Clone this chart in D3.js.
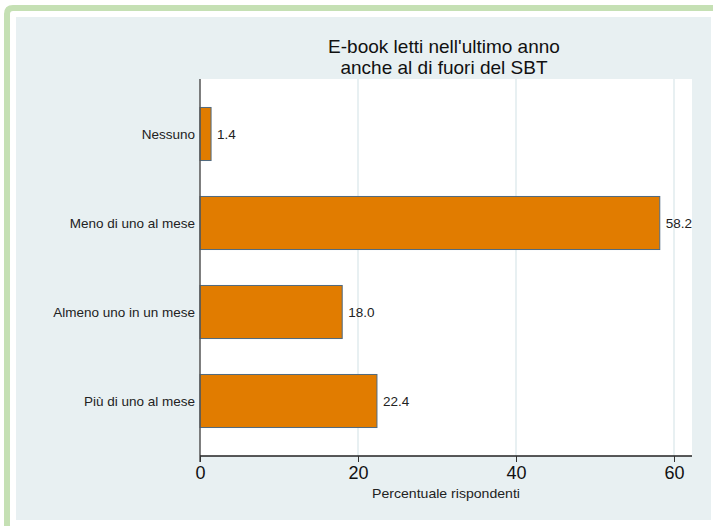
<!DOCTYPE html>
<html><head><meta charset="utf-8">
<script src="https://cdn.jsdelivr.net/npm/d3@7"></script>
<style>body{margin:0;background:#fff;}svg{display:block;font-family:"Liberation Sans",Arial,sans-serif;}</style>
</head><body>
<script>
const categories = ["Nessuno","Meno di uno al mese","Almeno uno in un mese","Più di uno al mese"];
const values = [1.4, 58.2, 18.0, 22.4];
const xTicks = [0, 20, 40, 60];
const titleLines = ["E-book letti nell'ultimo anno","anche al di fuori del SBT"];
const xTitle = "Percentuale rispondenti";

(function(){
const W = 713, H = 526;
const svg = d3.select("body").append("svg").attr("width", W).attr("height", H);

// outer green frame
svg.append("path")
  .attr("d", "M7,526 L7,14 Q7,8 13,8 L713,8")
  .attr("fill","none").attr("stroke","#c5e0b4").attr("stroke-width",6);
// panel
svg.append("rect").attr("x",16).attr("y",17).attr("width",695).attr("height",503).attr("fill","#e8f0f2");

const pL = 200, pR = 692, pT = 79, pB = 456;
svg.append("rect").attr("x",pL).attr("y",pT).attr("width",pR-pL).attr("height",pB-pT).attr("fill","#fff");

const x = d3.scaleLinear().domain([0, 60]).range([pL, 674]);
const y = d3.scaleBand().domain(categories).range([pT, pB]).paddingInner(0.404).paddingOuter(0.32);

// grid
svg.append("g").selectAll("line").data(xTicks.filter(d=>d>0)).join("line")
  .attr("x1",d=>x(d)).attr("x2",d=>x(d)).attr("y1",pT).attr("y2",pB)
  .attr("stroke","#e8f0f2").attr("stroke-width",2);

// bars
svg.append("g").selectAll("rect").data(values).join("rect")
  .attr("x", x(0)).attr("y",(d,i)=>y(categories[i]))
  .attr("width", d=>x(d)-x(0)).attr("height", y.bandwidth())
  .attr("fill","#e17c00").attr("stroke","#4f6a80").attr("stroke-width",1);

// value labels
svg.append("g").selectAll("text").data(values).join("text")
  .attr("x", d=>x(d)+6).attr("y",(d,i)=>y(categories[i])+y.bandwidth()/2)
  .attr("dy","0.35em").attr("font-size",13.5).attr("fill","#222")
  .text(d=>d.toFixed(1));

// category labels
svg.append("g").selectAll("text").data(categories).join("text")
  .attr("x", 195).attr("y", d=>y(d)+y.bandwidth()/2).attr("dy","0.35em")
  .attr("text-anchor","end").attr("font-size",13.5).attr("fill","#222").text(d=>d);

// y axis line
svg.append("line").attr("x1",pL).attr("x2",pL).attr("y1",pT).attr("y2",pB+6)
  .attr("stroke","#555").attr("stroke-width",1.5);

// x axis
const xAxis = d3.axisBottom(x).tickValues(xTicks).tickSize(6).tickPadding(4).tickFormat(d3.format("d"));
const gx = svg.append("g").attr("transform",`translate(0,${pB})`).call(xAxis);
gx.select(".domain").attr("d",`M${pL},0H${pR}`).attr("stroke","#222").attr("stroke-width",1.5);
gx.selectAll(".tick line").attr("stroke","#333");
gx.selectAll(".tick text").attr("font-size",18).attr("fill","#111").attr("font-family","'Liberation Sans',Arial,sans-serif");

svg.append("text").attr("x",446).attr("y",498).attr("text-anchor","middle")
  .attr("font-size",13.5).attr("fill","#222").attr("textLength",148).attr("lengthAdjust","spacingAndGlyphs").text(xTitle);

// title
svg.append("g").selectAll("text").data(titleLines).join("text")
  .attr("x",444).attr("y",(d,i)=>53+i*21).attr("text-anchor","middle")
  .attr("font-size",19).attr("fill","#111").text(d=>d);
})();
</script>
</body></html>
